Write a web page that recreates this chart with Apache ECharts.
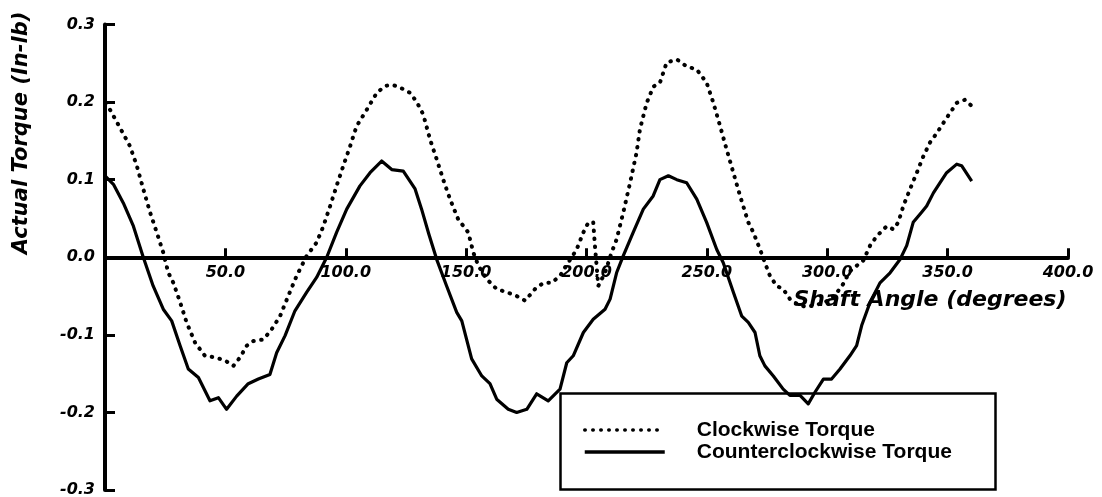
<!DOCTYPE html>
<html>
<head>
<meta charset="utf-8">
<script src="https://cdn.jsdelivr.net/npm/echarts@6/dist/echarts.min.js"></script>
<style>
html,body{margin:0;padding:0;background:#fff;}
#chart{width:1102px;height:497px;}
</style>
</head>
<body>
<div id="chart"></div>
<script>
// ---- data ----
const seriesNames = ['Clockwise Torque', 'Counterclockwise Torque'];
const xTicks = [0, 50, 100, 150, 200, 250, 300, 350, 400];
const yTicks = [-0.3, -0.2, -0.1, 0.0, 0.1, 0.2, 0.3];

const clockwise = [
  [0,0.198],[2.1,0.190],[6.2,0.167],[10.4,0.143],[13.2,0.118],[15.9,0.088],[18.7,0.058],
  [21.5,0.032],[24.2,0.006],[26.3,-0.020],[28.4,-0.033],[31.2,-0.058],[33.9,-0.084],
  [37.4,-0.110],[41.5,-0.127],[45.7,-0.129],[49.8,-0.133],[53.3,-0.140],[56.1,-0.129],
  [58.9,-0.114],[61.6,-0.108],[65.8,-0.106],[69.2,-0.093],[72.7,-0.076],[76.1,-0.050],
  [79.6,-0.024],[83.8,0.002],[87.9,0.019],[90.7,0.040],[93.5,0.066],[96.2,0.092],
  [99.0,0.118],[101.8,0.143],[104.5,0.169],[108.7,0.190],[112.9,0.212],[116.5,0.221],
  [119.7,0.222],[123.0,0.218],[126.7,0.212],[129.5,0.200],[132.2,0.184],[135.0,0.152],
  [137.8,0.126],[140.5,0.100],[143.3,0.075],[146.7,0.049],[150.9,0.032],[153.0,0.006],
  [155.1,-0.011],[158.5,-0.028],[162.7,-0.041],[166.9,-0.045],[171.0,-0.050],[174.5,-0.056],
  [178.6,-0.041],[182.1,-0.033],[185.5,-0.033],[189.0,-0.024],[192.4,-0.007],[195.9,0.010],
  [198.7,0.032],[200.8,0.045],[202.8,0.045],[203.5,0.015],[204.2,-0.011],[204.9,-0.037],
  [207.7,-0.020],[210.4,0.006],[212.5,0.023],[215.3,0.058],[218.1,0.096],[220.8,0.135],
  [222.2,0.165],[225.0,0.199],[227.8,0.220],[230.5,0.225],[233.3,0.251],[237.5,0.255],
  [241.6,0.246],[245.8,0.242],[249.9,0.225],[252.7,0.199],[255.5,0.169],[258.2,0.139],
  [261.0,0.109],[263.8,0.079],[267.2,0.045],[269.3,0.032],[272.1,0.010],[274.1,-0.007],
  [276.2,-0.024],[279.0,-0.037],[281.7,-0.041],[284.5,-0.054],[287.3,-0.060],[291.0,-0.064],
  [295.0,-0.062],[299.0,-0.058],[303.0,-0.050],[306.5,-0.035],[309.4,-0.018],[315.0,-0.004],
  [317.8,0.015],[320.5,0.027],[324.7,0.040],[327.5,0.036],[329.5,0.045],[331.6,0.066],
  [334.4,0.088],[337.2,0.109],[339.9,0.130],[342.7,0.148],[345.5,0.160],[348.2,0.173],
  [351.0,0.186],[353.8,0.199],[357.2,0.203],[360.0,0.195]
];

const counterclockwise = [
  [0,0.105],[3.5,0.094],[7.6,0.070],[11.8,0.040],[15.9,0.000],[20.0,-0.037],[24.2,-0.067],
  [27.7,-0.082],[28.5,-0.080],[31.2,-0.114],[34.6,-0.144],[38.8,-0.155],[43.6,-0.185],
  [47.1,-0.181],[50.5,-0.196],[54.7,-0.179],[59.5,-0.163],[63.7,-0.157],[68.5,-0.151],
  [71.3,-0.123],[74.8,-0.101],[78.9,-0.069],[83.8,-0.045],[87.9,-0.026],[92.1,0.000],
  [96.2,0.032],[100.4,0.062],[105.9,0.092],[110.1,0.109],[114.9,0.124],[119.1,0.113],
  [123.9,0.111],[128.8,0.088],[131.5,0.062],[134.5,0.030],[137.8,-0.003],[141.9,-0.037],
  [146.1,-0.071],[148.2,-0.082],[152.3,-0.131],[156.5,-0.153],[159.9,-0.163],[162.7,-0.183],
  [167.5,-0.196],[171.0,-0.200],[175.2,-0.196],[179.3,-0.176],[184.1,-0.185],[189.0,-0.170],
  [191.8,-0.136],[194.5,-0.127],[198.7,-0.097],[202.8,-0.080],[207.7,-0.067],[209.8,-0.054],
  [212.5,-0.020],[215.3,0.002],[219.4,0.032],[223.6,0.062],[227.7,0.079],[230.5,0.100],
  [234.0,0.105],[237.5,0.100],[241.6,0.096],[245.8,0.075],[249.9,0.045],[254.1,0.010],
  [256.8,-0.007],[261.0,-0.045],[264.5,-0.076],[267.2,-0.084],[270.0,-0.097],[272.0,-0.127],
  [274.1,-0.140],[277.6,-0.153],[281.7,-0.170],[284.5,-0.178],[288.7,-0.178],[292.1,-0.189],
  [294.9,-0.174],[298.4,-0.157],[301.8,-0.157],[305.3,-0.144],[309.4,-0.127],[312.2,-0.114],
  [314.3,-0.088],[317.8,-0.058],[321.9,-0.033],[326.1,-0.020],[330.2,-0.003],[333.0,0.015],
  [335.7,0.045],[339.2,0.058],[341.3,0.066],[344.1,0.083],[346.8,0.096],[349.6,0.109],
  [353.8,0.120],[355.8,0.118],[360.0,0.098]
];

const yAxisTitle = 'Actual Torque (In-lb)';
const xAxisTitle = 'Shaft Angle (degrees)';

// ---- layout ----
const GRID_TOP = 24.5, GRID_BOTTOM = 7, CHART_H = 497;
const plotH = CHART_H - GRID_TOP - GRID_BOTTOM;
// distance from the bottom of the grid up to value 0 on the y axis
const zeroFromBottom = plotH * (0 - yTicks[0]) / (yTicks[yTicks.length - 1] - yTicks[0]);

const chart = echarts.init(document.getElementById('chart'), null, {renderer: 'canvas'});
const tickFont = {fontFamily: 'DejaVu Sans', fontWeight: 'bold', fontStyle: 'italic', fontSize: 16, color: '#000'};

chart.setOption({
  animation: false,
  backgroundColor: '#fff',
  grid: {left: 105, right: 34, top: GRID_TOP, bottom: GRID_BOTTOM, containLabel: false, outerBoundsMode: 'none'},
  xAxis: {
    type: 'value', min: xTicks[0], max: xTicks[xTicks.length - 1], interval: xTicks[1] - xTicks[0],
    position: 'bottom', offset: -zeroFromBottom,
    axisLine: {onZero: false, lineStyle: {color: '#000', width: 4}},
    axisTick: {inside: true, length: 9, lineStyle: {color: '#000', width: 3}},
    axisLabel: Object.assign({margin: 8, formatter: v => v === 0 ? '' : v.toFixed(1)}, tickFont),
    splitLine: {show: false}
  },
  yAxis: {
    type: 'value', min: yTicks[0], max: yTicks[yTicks.length - 1], interval: 0.1,
    axisLine: {onZero: false, lineStyle: {color: '#000', width: 4}},
    axisTick: {inside: true, length: 10, lineStyle: {color: '#000', width: 3}},
    axisLabel: Object.assign({margin: 10, formatter: v => v.toFixed(1)}, tickFont),
    splitLine: {show: false}
  },
  legend: {
    left: 583, top: 419, orient: 'vertical', itemWidth: 80, itemHeight: 22, itemGap: 0,
    padding: 0,
    data: seriesNames,
    itemStyle: {color: 'rgba(0,0,0,0)', borderWidth: 0, opacity: 0},
    lineStyle: {width: 3.5},
    textStyle: {fontFamily: 'Liberation Sans', fontWeight: 'bold', fontSize: 21, lineHeight: 22, color: '#000', padding: [0, 0, 0, 27]}
  },
  graphic: [
    {type: 'rect', left: 558, top: 391, shape: {width: 435, height: 96},
     style: {fill: 'none', stroke: '#000', lineWidth: 2.5}, z: 1},
    {type: 'text', x: 22, y: 133, rotation: Math.PI / 2,
     style: {text: yAxisTitle, fill: '#000', font: 'italic bold 21px "DejaVu Sans"', align: 'center', verticalAlign: 'middle'}},
    {type: 'text', x: 930, y: 300,
     style: {text: xAxisTitle, fill: '#000', font: 'italic bold 22px "DejaVu Sans"', align: 'center', verticalAlign: 'middle'}, z: 10}
  ],
  series: [
    {name: seriesNames[0], type: 'line', data: clockwise, symbol: 'none', smooth: false, z: 3,
     lineStyle: {color: '#000', width: 4, type: [0.5, 7.5], cap: 'round'}, itemStyle: {color: '#000'}},
    {name: seriesNames[1], type: 'line', data: counterclockwise, symbol: 'none', smooth: false, z: 3,
     lineStyle: {color: '#000', width: 3.2, type: 'solid', join: 'round'}, itemStyle: {color: '#000'}}
  ]
});
</script>
</body>
</html>
